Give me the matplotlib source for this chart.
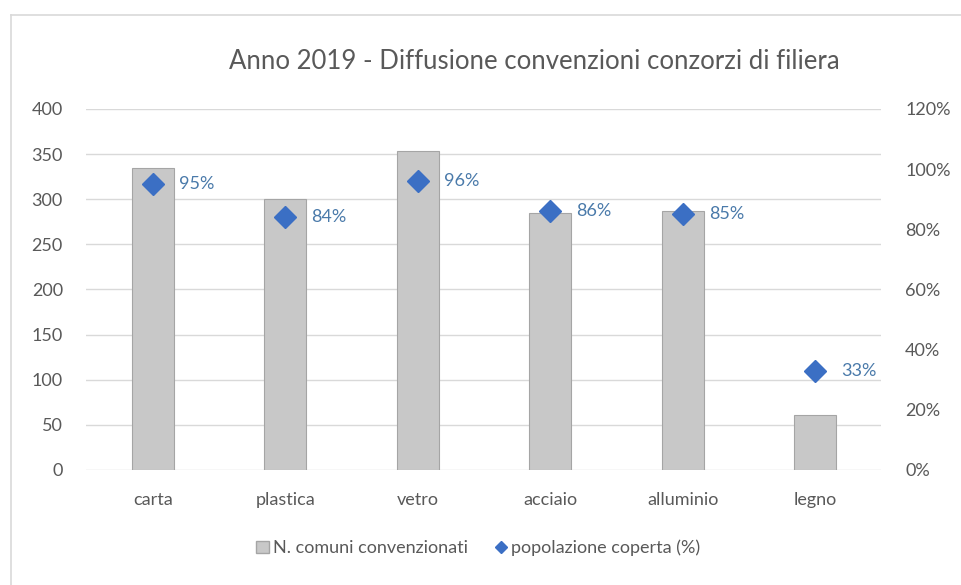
import matplotlib
matplotlib.use('Agg')
import matplotlib.pyplot as plt
from matplotlib.lines import Line2D
from matplotlib.patches import Patch

categories = ['carta', 'plastica', 'vetro', 'acciaio', 'alluminio', 'legno']
comuni = [335, 300, 353, 285, 287, 61]
popolazione = [0.95, 0.84, 0.96, 0.86, 0.85, 0.33]
left_ticks = [0, 50, 100, 150, 200, 250, 300, 350, 400]
right_ticks = [0, 0.2, 0.4, 0.6, 0.8, 1.0, 1.2]

plt.rcParams['font.family'] = ['Lato', 'DejaVu Sans']
gray_txt = '#595959'
fs = 13

fig = plt.figure(figsize=(9.62, 5.85), dpi=100)
# chart frame (only left and top edges are visible in the crop)
fig.add_artist(Line2D([11 / 962, 11 / 962], [0, 1 - 15 / 585], color='#d9d9d9', lw=1.2))
fig.add_artist(Line2D([11 / 962, 1], [1 - 15 / 585, 1 - 15 / 585], color='#d9d9d9', lw=1.2))

ax = fig.add_axes([0.0899, 0.1966, 0.8264, 0.6171])
x = range(len(categories))
ax.bar(x, comuni, width=0.32, color='#c8c8c8', edgecolor='#a5a5a5', linewidth=0.8, zorder=2)
ax.set_ylim(0, 400)
ax.set_xlim(-0.5, len(categories) - 0.5)
ax.set_yticks(left_ticks)
ax.grid(axis='y', color='#d9d9d9', linewidth=1, zorder=0)
ax.set_axisbelow(True)
ax.set_xticks(list(x))
ax.set_xticklabels(categories)
for s in ax.spines.values():
    s.set_visible(False)
ax.tick_params(axis='both', length=0, colors=gray_txt, labelsize=fs)
ax.tick_params(axis='x', pad=16)
ax.tick_params(axis='y', pad=17)

ax2 = ax.twinx()
ax2.plot(x, popolazione, linestyle='none', marker='D', markersize=11,
         color='#3b6fc4', zorder=3)
ax2.set_ylim(0, 1.2)
ax2.set_yticks(right_ticks)
ax2.set_yticklabels([f'{int(round(t * 100))}%' for t in right_ticks])
for s in ax2.spines.values():
    s.set_visible(False)
ax2.tick_params(axis='y', length=0, colors=gray_txt, labelsize=fs, pad=17)
for i, p in enumerate(popolazione):
    ax2.annotate(f'{int(round(p * 100))}%', (i, p), xytext=(19, 0),
                 textcoords='offset points', va='center', ha='left',
                 color='#4a7aaa', fontsize=fs)

fig.text(0.555, 0.895, 'Anno 2019 - Diffusione convenzioni conzorzi di filiera',
         ha='center', va='center', fontsize=18.5, color=gray_txt)

handles = [Patch(facecolor='#c8c8c8', edgecolor='#a5a5a5'),
           Line2D([], [], linestyle='none', marker='D', markersize=6, color='#3b6fc4')]
leg = fig.legend(handles, ['N. comuni convenzionati', 'popolazione coperta (%)'],
                 loc='center', bbox_to_anchor=(0.497, 0.063), ncol=2, frameon=False,
                 fontsize=fs, handlelength=0.7, handleheight=0.7, handletextpad=0.2,
                 columnspacing=1.5)
for t in leg.get_texts():
    t.set_color(gray_txt)

fig.savefig('out.png', dpi=100)
